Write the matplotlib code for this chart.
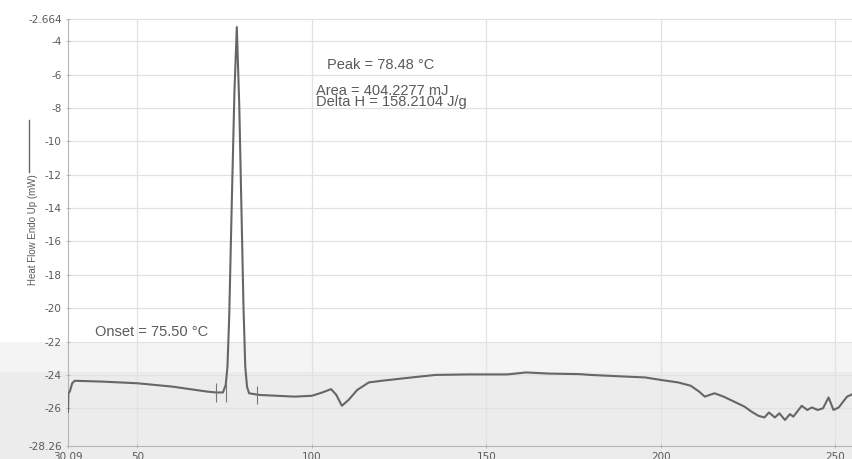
import matplotlib
matplotlib.use("Agg")
import matplotlib.pyplot as plt
from matplotlib.patches import Rectangle
from matplotlib.lines import Line2D

plt.rcParams['font.family'] = ['Liberation Sans', 'DejaVu Sans']

# DSC scan: temperature (°C) vs heat flow (mW)
temp = [30.09, 30.2, 30.6, 31.3, 32.0, 40, 50, 60, 70, 72.5, 74.5,
        75.3, 75.8, 76.3, 77.0, 77.8, 78.48, 79.2, 79.8, 80.4, 80.9, 81.4, 82.0,
        85, 90, 95, 100, 103, 105.5, 107, 108.6, 110.5, 113, 116.3, 120,
        128.6, 135.4, 145, 150, 156, 161.4, 168, 176.5, 180, 188, 195.5, 200,
        205, 208.6, 211, 212.6, 215.4, 218, 221, 224, 226, 228, 229.7, 231,
        232.7, 234, 235.6, 237, 238, 240.4, 242, 243.3, 245, 246.5, 248.1,
        249.5, 251, 253.4, 255]
heat_flow = [-26.2, -25.1, -25.0, -24.5, -24.35, -24.4, -24.5, -24.7, -25.0, -25.05, -25.05,
             -24.6, -23.5, -20.5, -14.0, -7.0, -3.15, -8.0, -14.0, -20.0, -23.5, -24.7, -25.1,
             -25.2, -25.25, -25.3, -25.25, -25.05, -24.85, -25.2, -25.85, -25.5, -24.9, -24.45, -24.35,
             -24.15, -24.0, -23.97, -23.97, -23.97, -23.85, -23.92, -23.95, -24.0, -24.08, -24.15, -24.3,
             -24.45, -24.65, -25.0, -25.3, -25.1, -25.3, -25.6, -25.9, -26.2, -26.45, -26.55, -26.25,
             -26.55, -26.3, -26.7, -26.35, -26.5, -25.85, -26.1, -25.95, -26.1, -26.0, -25.35,
             -26.1, -25.95, -25.3, -25.15]

# integration limits / onset markers on the baseline
limit_temp = [72.6, 75.5, 84.3]
limit_flow = [-25.05, -25.05, -25.2]

x_ticks = [30.09, 50, 100, 150, 200, 250]
x_labels = ["30.09", "50", "100", "150", "200", "250"]
y_ticks = [-2.664, -4, -6, -8, -10, -12, -14, -16, -18, -20, -22, -24, -26, -28.26]
y_labels = ["-2.664", "-4", "-6", "-8", "-10", "-12", "-14", "-16", "-18",
            "-20", "-22", "-24", "-26", "-28.26"]

peak_text = "Peak = 78.48 °C"
area_text = "Area = 404.2277 mJ\nDelta H = 158.2104 J/g"
onset_text = "Onset = 75.50 °C"

text_color = "#5a5a5a"
grid_color = "#e2e2e2"

fig = plt.figure(figsize=(8.53, 4.59), dpi=100)
fig.patch.set_facecolor("white")
# grey scan haze along the lower band
fig.add_artist(Rectangle((0, 0), 1, (459 - 372) / 459, transform=fig.transFigure,
                         facecolor="#ececec", edgecolor="none", zorder=-2))
fig.add_artist(Rectangle((0, (459 - 372) / 459), 1, 30 / 459, transform=fig.transFigure,
                         facecolor="#f4f4f4", edgecolor="none", zorder=-2))

ax = fig.add_axes([68 / 853, 13 / 459, 1 - 68 / 853, 427 / 459])
ax.set_facecolor("none")

ax.plot(temp, heat_flow, color="#666666", lw=1.5, solid_joinstyle="round", zorder=3)
ax.vlines(limit_temp, [v - 0.55 for v in limit_flow], [v + 0.55 for v in limit_flow],
          color="#777777", lw=0.8, zorder=3)

ax.set_xlim(30.09, 255.1)
ax.set_ylim(-28.26, -2.664)
ax.set_xticks(x_ticks)
ax.set_xticklabels(x_labels, family="DejaVu Sans")
ax.set_yticks(y_ticks)
ax.set_yticklabels(y_labels, family="DejaVu Sans")
ax.tick_params(axis="both", labelsize=7.5, colors=text_color, length=3,
               direction="inout", width=0.6, color="#aaaaaa")
ax.tick_params(axis="x", pad=3)
ax.tick_params(axis="y", pad=3)

for x in x_ticks[1:]:
    ax.axvline(x, color=grid_color, lw=0.9, zorder=1)
for y in y_ticks[1:-1]:
    ax.axhline(y, color=grid_color, lw=0.9, zorder=1)
ax.axhline(y_ticks[0], color=grid_color, lw=0.9, zorder=1, clip_on=False)

for side in ["top", "right"]:
    ax.spines[side].set_visible(False)
for side in ["left", "bottom"]:
    ax.spines[side].set_color("#b5b5b5")
    ax.spines[side].set_linewidth(0.8)

ax.text(104.3, -5.4, peak_text, fontsize=10.5, color=text_color, va="center", ha="left")
ax.text(101.2, -7.3, area_text, fontsize=10.5, color=text_color, va="center", ha="left",
        linespacing=0.72)
ax.text(37.7, -21.4, onset_text, fontsize=10.5, color=text_color, va="center", ha="left")

fig.text(33 / 853, 1 - 230 / 459, "Heat Flow Endo Up (mW)", rotation=90,
         fontsize=7, color=text_color, ha="center", va="center")
fig.add_artist(Line2D([29 / 853, 29 / 853], [1 - 172 / 459, 1 - 120 / 459],
                      transform=fig.transFigure, color="#666666", lw=1.0))

fig.savefig("out.png", dpi=100)
